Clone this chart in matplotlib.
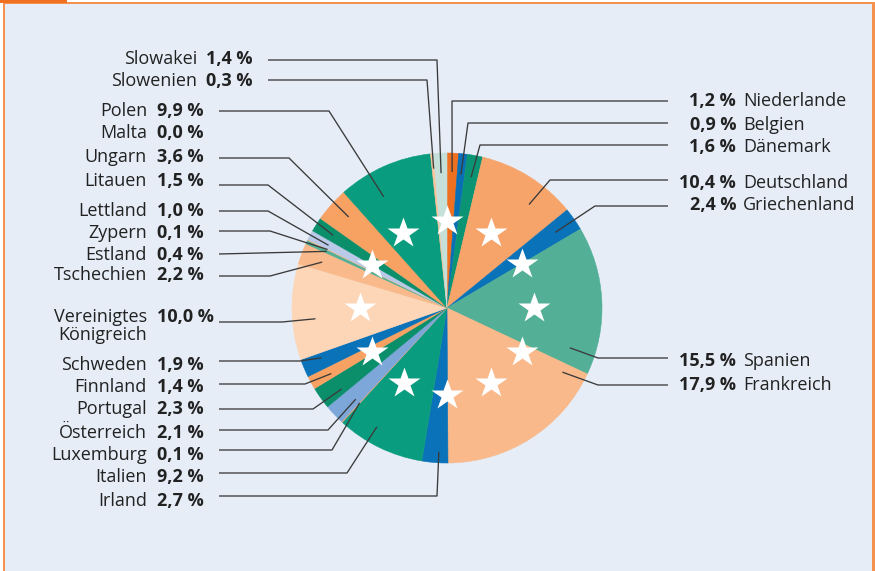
import matplotlib
matplotlib.use("Agg")
import matplotlib.pyplot as plt
import numpy as np
from matplotlib.patches import Rectangle

# ---------------- data ----------------
countries = ["Niederlande", "Belgien", "Dänemark", "Deutschland", "Griechenland",
             "Spanien", "Frankreich", "Irland", "Italien", "Luxemburg",
             "Österreich", "Portugal", "Finnland", "Schweden",
             "Vereinigtes\nKönigreich", "Tschechien", "Estland", "Zypern",
             "Lettland", "Litauen", "Ungarn", "Malta", "Polen", "Slowenien",
             "Slowakei"]
shares = [1.2, 0.9, 1.6, 10.4, 2.4, 15.5, 17.9, 2.7, 9.2, 0.1, 2.1, 2.3, 1.4,
          1.9, 10.0, 2.2, 0.4, 0.1, 1.0, 1.5, 3.6, 0.0, 9.9, 0.3, 1.4]
share_labels = [f"{v:.1f} %".replace(".", ",") for v in shares]

# ---------------- styles ----------------
slice_colors = ["#F07022", "#0A6FB5", "#0B9474", "#F7A46B", "#0A72B8",
                "#53B096", "#F9B98A", "#0A72B8", "#0A9C7E", "#F7A46B",
                "#7DA7D9", "#0B8F6B", "#F7A263", "#0A72B8", "#FDD6B7",
                "#F9B98A", "#53B096", "#F9B98A", "#B9CAE8", "#0B8F6B",
                "#F7A263", "#F7A263", "#0A9C7E", "#F9C59D", "#C4E0D8"]

# ---------------- layout (pixels, y downwards) ----------------
W, H = 875, 571
cx, cy, R = 447, 308, 155
FONT = "Open Sans"
FS = 13
TXT = "#222222"
LINE = "#3A3A3A"

# side, text y, line y, elbow x, anchor position within wedge, anchor radius (px)
layout = {
    "Niederlande":  ("R", 100, 101, 452, 0.50, 136),
    "Belgien":      ("R", 123, 123, 468, 0.50, 134),
    "Dänemark":     ("R", 146, 145, 480, 0.50, 133),
    "Deutschland":  ("R", 182, 180, 550, 0.67, 132),
    "Griechenland": ("R", 204, 206, 595, 0.50, 132),
    "Spanien":      ("R", 359, 358, 598, 0.87, 129),
    "Frankreich":   ("R", 383, 385, 598, 0.06, 132),
    "Irland":       ("L", 499, 496, 437, 0.37, 144),
    "Italien":      ("L", 476, 473, 347, 0.64, 138),
    "Luxemburg":    ("L", 454, 450, 332, 0.50, 129),
    "Österreich":   ("L", 431, 430, 328, 0.29, 129),
    "Portugal":     ("L", 408, 409, 313, 0.25, 133),
    "Finnland":     ("L", 385, 384, 305, 0.35, 133),
    "Schweden":     ("L", 363, 361, 300, 0.68, 135),
    "Vereinigtes\nKönigreich": ("L", 315, 322, 282, 0.41, 132),
    "Tschechien":   ("L", 274, 276, 270, 0.46, 133),
    "Estland":      ("L", 254, 254, 219, 0.50, 133),
    "Zypern":       ("L", 232, 231, 270, 0.50, 133),
    "Lettland":     ("L", 210, 211, 268, 0.45, 134),
    "Litauen":      ("L", 179, 185, 268, 0.50, 135),
    "Ungarn":       ("L", 156, 158, 289, 0.58, 134),
    "Malta":        ("L", 132, None, None, None, None),
    "Polen":        ("L", 110, 111, 329, 0.34, 128),
    "Slowenien":    ("L", 80, 80, 427, 0.60, 140),
    "Slowakei":     ("L", 58, 60, 437, 0.50, 135),
}
top_group = {"Slowenien", "Slowakei"}

fig = plt.figure(figsize=(W / 100, H / 100), dpi=100)
fig.patch.set_facecolor("white")
ax = fig.add_axes([0, 0, 1, 1])

# background + frame
ax.add_patch(Rectangle((5, 3), 867, H, facecolor="#E6EDF7", edgecolor="none", zorder=0))
ax.add_patch(Rectangle((3, 1.7), W, 1.8, facecolor="#F5914F", edgecolor="none", zorder=1))
ax.add_patch(Rectangle((3, 1.7), 2.2, H, facecolor="#F5914F", edgecolor="none", zorder=1))
ax.add_patch(Rectangle((872, 1.7), 3, H, facecolor="#F5914F", edgecolor="none", zorder=1))
ax.add_patch(Rectangle((0, 0), 67, 3.4, facecolor="#F07022", edgecolor="none", zorder=1))

# pie (y axis inverted -> counterclock in data == clockwise on screen)
wedges, _ = ax.pie(shares, colors=slice_colors, startangle=-90, counterclock=True,
                   radius=R, center=(cx, cy), wedgeprops=dict(linewidth=0.4))
for w in wedges:
    w.set_edgecolor(w.get_facecolor())
    w.set_zorder(2)

# stars
ang = np.deg2rad(np.arange(12) * 30)
ax.plot(cx + 87 * np.cos(ang), cy + 87 * np.sin(ang), ls="none", marker="*",
        ms=23.5, color="white", mec="none", zorder=4)

# labels & leader lines
for name, val_lbl, w in zip(countries, share_labels, wedges):
    side, ty, ly, ex, t, rr = layout[name]
    base = ty + 6.5
    if side == "L":
        nx, vx, sx = (197, 206, 268) if name in top_group else (147, 157, 219)
        lines = name.split("\n")
        for i, ln in enumerate(lines):
            ax.text(nx, base + i * 18, ln, ha="right", va="baseline", fontsize=FS,
                    family=FONT, color=TXT, zorder=5)
        ax.text(vx, base, val_lbl, ha="left", va="baseline", fontsize=FS,
                family=FONT, fontweight="bold", color=TXT, zorder=5)
    else:
        ax.text(736, base, val_lbl, ha="right", va="baseline", fontsize=FS,
                family=FONT, fontweight="bold", color=TXT, zorder=5)
        ax.text(743, base, name, ha="left", va="baseline", fontsize=FS,
                family=FONT, color=TXT, zorder=5)
        sx = 668
    if ly is None:
        continue
    th = np.deg2rad(w.theta1 + t * (w.theta2 - w.theta1))
    axp, ayp = cx + rr * np.cos(th), cy + rr * np.sin(th)
    ax.plot([sx, ex, axp], [ly, ly, ayp], color=LINE, lw=0.95, zorder=3,
            solid_capstyle="butt")

ax.set_xlim(0, W)
ax.set_ylim(H, 0)
ax.set_aspect("auto")
ax.axis("off")
fig.savefig("out.png", dpi=100)
